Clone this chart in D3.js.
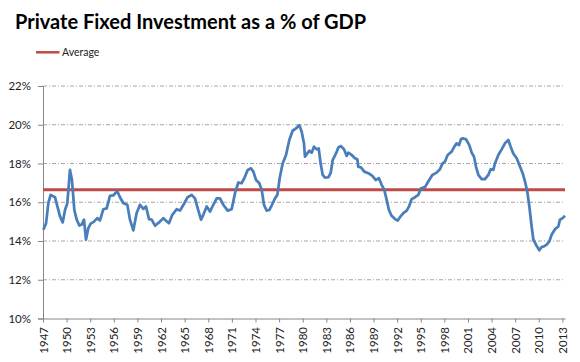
<!DOCTYPE html>
<html>
<head>
<meta charset="utf-8">
<script src="https://cdnjs.cloudflare.com/ajax/libs/d3/7.8.5/d3.min.js"></script>
<style>
  body { margin: 0; background: #fff; }
  svg { display: block; font-family: Lato, "Open Sans", sans-serif; }
</style>
</head>
<body>
<svg id="chart"></svg>
<script>
// quarter-ish points (decimal year, % of GDP)
const years = [
  1947.04, 1947.38, 1947.68, 1947.97, 1948.52, 1948.82, 1949.16, 1949.5, 1949.8, 1950.09,
  1950.43, 1950.68, 1950.98, 1951.28, 1951.62, 1951.91, 1952.21, 1952.46, 1952.76, 1953.06,
  1953.48, 1953.9, 1954.24, 1954.67, 1955.09, 1955.51, 1955.94, 1956.44, 1956.78, 1957.21,
  1957.72, 1958.05, 1958.48, 1958.9, 1959.33, 1959.75, 1960.09, 1960.47, 1960.81, 1961.23,
  1961.74, 1962.29, 1962.59, 1963.01, 1963.43, 1963.98, 1964.41, 1964.96, 1965.38, 1965.89,
  1966.31, 1966.65, 1967.08, 1967.37, 1967.8, 1968.22, 1968.64, 1969.07, 1969.49, 1969.91,
  1970.46, 1970.97, 1971.4, 1971.82, 1972.24, 1972.58, 1973.01, 1973.43, 1973.73, 1974.07,
  1974.49, 1974.79, 1975.08, 1975.42, 1975.76, 1976.1, 1976.48, 1976.78, 1977.11, 1977.45,
  1977.88, 1978.3, 1978.72, 1979.15, 1979.57, 1979.87, 1980.16, 1980.29, 1980.59, 1980.84,
  1981.14, 1981.43, 1981.77, 1982.03, 1982.28, 1982.54, 1982.83, 1983.26, 1983.55, 1983.81,
  1984.23, 1984.53, 1984.87, 1985.25, 1985.59, 1985.8, 1986.22, 1986.64, 1986.94, 1987.05,
  1987.4, 1987.83, 1988.34, 1988.85, 1989.27, 1989.69, 1990.03, 1990.37, 1990.67, 1990.96,
  1991.3, 1991.73, 1992.07, 1992.36, 1992.79, 1993.21, 1993.51, 1993.84, 1994.27, 1994.69,
  1995.03, 1995.54, 1995.96, 1996.47, 1997.02, 1997.44, 1997.74, 1998.08, 1998.42, 1998.93,
  1999.27, 1999.56, 1999.86, 2000.11, 2000.33, 2000.75, 2001.17, 2001.47, 2001.77, 2002.02,
  2002.32, 2002.74, 2003.16, 2003.59, 2003.88, 2004.22, 2004.43, 2004.86, 2005.28, 2005.7,
  2006.13, 2006.42, 2006.76, 2007.19, 2007.53, 2007.95, 2008.25, 2008.54, 2008.8, 2009.09,
  2009.3, 2009.64, 2010.07, 2010.36, 2010.66, 2011.0, 2011.34, 2011.63, 2012.06, 2012.48,
  2012.69, 2013.03, 2013.33
];
const values = [
  14.58, 14.9, 15.95, 16.38, 16.26, 15.8, 15.27, 14.96, 15.6, 15.95,
  17.67, 17.15, 15.6, 15.1, 14.8, 14.85, 15.1, 14.07, 14.67, 14.9,
  15.0, 15.18, 15.06, 15.64, 15.68, 16.33, 16.36, 16.57, 16.26, 15.95,
  15.87, 15.1, 14.55, 15.44, 15.87, 15.66, 15.78, 15.13, 15.1, 14.79,
  14.96, 15.18, 15.06, 14.92, 15.35, 15.64, 15.57, 15.95, 16.26, 16.38,
  16.2, 15.7, 15.1, 15.35, 15.78, 15.52, 15.87, 16.2, 16.2, 15.87,
  15.57, 15.64, 16.47, 17.02, 16.98, 17.24, 17.67, 17.75, 17.58, 17.15,
  16.98, 16.64, 15.87, 15.57, 15.6, 15.87, 16.2, 16.38, 17.32, 18.0,
  18.44, 19.21, 19.69, 19.81, 19.98, 19.64, 19.04, 18.35, 18.52, 18.66,
  18.56, 18.87, 18.73, 18.78, 18.0, 17.41, 17.27, 17.29, 17.5, 18.18,
  18.52, 18.83, 18.9, 18.73, 18.39, 18.56, 18.44, 18.27, 18.22, 17.84,
  17.8, 17.58, 17.5, 17.36, 17.15, 17.24, 16.9, 16.64, 16.12, 15.6,
  15.3, 15.13, 15.06, 15.23, 15.44, 15.57, 15.78, 16.16, 16.26, 16.38,
  16.72, 16.78, 17.07, 17.41, 17.53, 17.7, 17.98, 18.1, 18.44, 18.61,
  18.87, 19.04, 18.95, 19.25, 19.3, 19.25, 18.95, 18.56, 18.35, 17.84,
  17.41, 17.19, 17.19, 17.41, 17.7, 17.67, 18.0, 18.44, 18.73, 19.04,
  19.21, 18.87, 18.52, 18.27, 17.92, 17.5, 17.07, 16.55, 15.78, 14.75,
  14.1, 13.81, 13.52, 13.69, 13.72, 13.81, 13.98, 14.32, 14.61, 14.75,
  15.1, 15.18, 15.3
];
const averageValue = 16.64;
const yTicks = [10, 12, 14, 16, 18, 20, 22];
const xTicks = d3.range(1947, 2014, 3);

const W = 580, H = 362;
const plot = { left: 43, right: 565, top: 86, bottom: 318.5 };

const svg = d3.select("#chart").attr("width", W).attr("height", H);

const x = d3.scaleLinear().domain([1947, 2013.33]).range([plot.left, plot.right]);
const y = d3.scaleLinear().domain([10, 22]).range([plot.bottom, plot.top]);

// title + legend
svg.append("text")
    .attr("x", 15).attr("y", 28.5)
    .attr("font-size", 20).attr("font-weight", "bold")
    .attr("fill", "#000")
    .text("Private Fixed Investment as a % of GDP");

svg.append("line")
    .attr("x1", 36).attr("x2", 59.5)
    .attr("y1", 52.3).attr("y2", 52.3)
    .attr("stroke", "#be4b48").attr("stroke-width", 2.5);
svg.append("text")
    .attr("x", 62).attr("y", 56)
    .attr("font-size", 10.5).attr("fill", "#222")
    .text("Average");

// gridlines
svg.append("g")
    .selectAll("line")
    .data(yTicks.filter(d => d > 10))
    .join("line")
    .attr("x1", plot.left).attr("x2", plot.right)
    .attr("y1", d => y(d)).attr("y2", d => y(d))
    .attr("stroke", "#a6a6a6").attr("stroke-width", 1)
    .attr("stroke-dasharray", "4,2,1,2");

// y axis
const yAxis = svg.append("g")
    .attr("transform", `translate(${plot.left},0)`)
    .call(d3.axisLeft(y).tickValues(yTicks).tickFormat(d => d + "%").tickSize(5).tickPadding(7));
yAxis.selectAll("path, line").attr("stroke", "#868686");
yAxis.selectAll("text").attr("font-size", 11.5).attr("fill", "#222")
    .attr("font-family", "Lato, sans-serif");

// x axis
const xAxis = svg.append("g")
    .attr("transform", `translate(0,${plot.bottom})`)
    .call(d3.axisBottom(x).tickValues(xTicks).tickFormat(d3.format("d")).tickSize(4).tickSizeOuter(0));
xAxis.selectAll("path, line").attr("stroke", "#868686");
xAxis.selectAll("text")
    .attr("transform", "rotate(-90)")
    .attr("text-anchor", "end")
    .attr("x", -8.5).attr("y", 0).attr("dy", "0.35em")
    .attr("font-size", 11.5).attr("fill", "#222")
    .attr("font-family", "Lato, sans-serif");

// average line
svg.append("line")
    .attr("x1", plot.left).attr("x2", plot.right)
    .attr("y1", y(averageValue)).attr("y2", y(averageValue))
    .attr("stroke", "#be4b48").attr("stroke-width", 3);

// series
const points = years.map((yr, i) => ({ year: yr, value: values[i] }));
const line = d3.line()
    .x(d => x(d.year))
    .y(d => y(d.value));

svg.append("path")
    .datum(points)
    .attr("d", line)
    .attr("fill", "none")
    .attr("stroke", "#4a7ebb")
    .attr("stroke-width", 2.75)
    .attr("stroke-linejoin", "round");
</script>
</body>
</html>
